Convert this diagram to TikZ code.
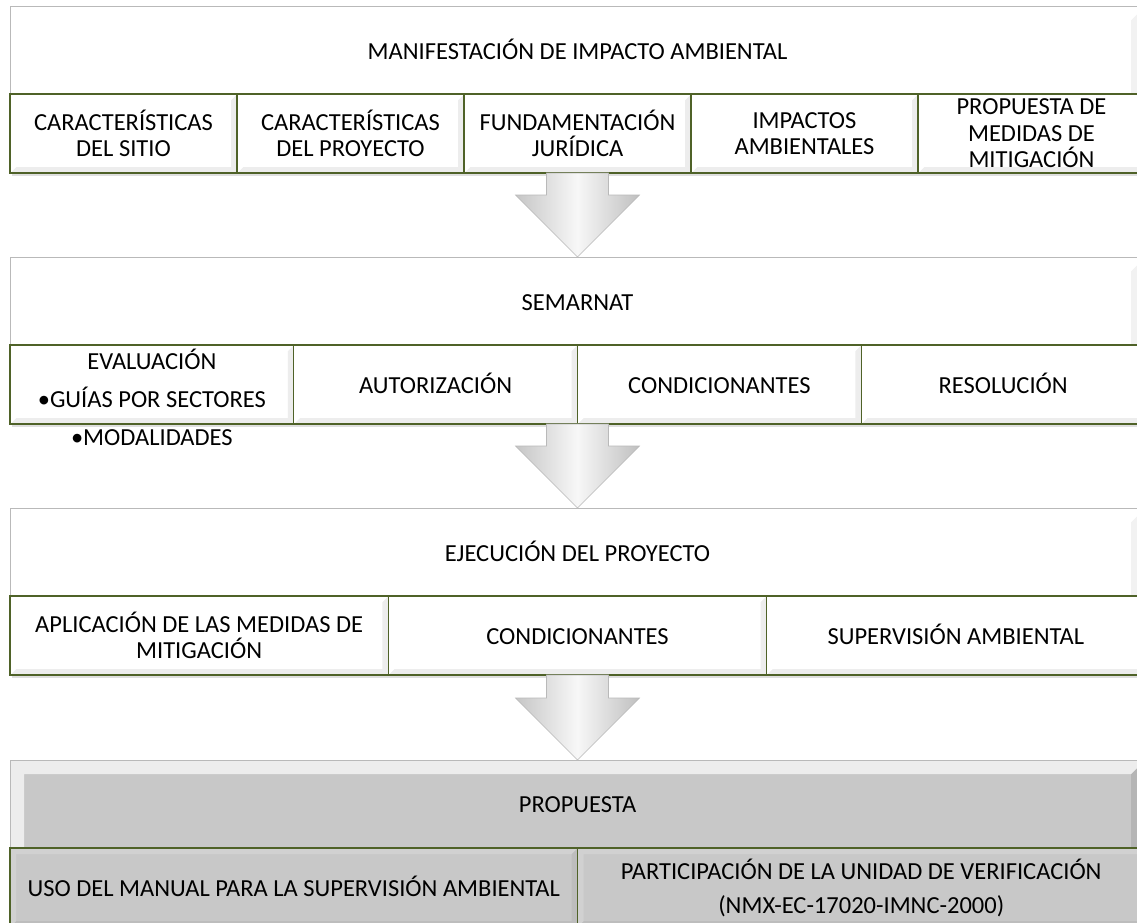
\documentclass[tikz,border=0pt]{standalone}
\usepackage{fontspec}
\setmainfont{Carlito}
\usepackage{tikz}
\usetikzlibrary{positioning, calc, shadows}

\definecolor{cellline}{HTML}{4F6228}
\definecolor{propgray}{HTML}{C8C8C8}

\newcommand\celltext{\fontsize{24.5}{26.5}\selectfont}
% bevel strips: #1 right/bottom, #2 left/top, #3 inset
\newcommand\bevel[3]{%
  \fill[#1] (path picture bounding box.north east) -- ([shift={(-#3,#3)}]path picture bounding box.north east)
    -- ([shift={(-#3,-#3)}]path picture bounding box.south east) -- ([shift={(#3,-#3)}]path picture bounding box.south west)
    -- (path picture bounding box.south west) -- (path picture bounding box.south east) -- cycle;
  \fill[#2] (path picture bounding box.north east) -- ([shift={(-#3,#3)}]path picture bounding box.north east)
    -- ([shift={(#3,#3)}]path picture bounding box.north west) -- ([shift={(#3,-#3)}]path picture bounding box.south west)
    -- (path picture bounding box.south west) -- (path picture bounding box.north west) -- cycle;
}
\newcommand\bigarrow[2]{%
  \path[blockarrow] ($(#1)+(-31,0)$) -- ($(#1)+(31,0)$) -- ($(#2)+(31,-62)$) -- ($(#2)+(62,-62)$)
    -- (#2) -- ($(#2)+(-62,-62)$) -- ($(#2)+(-31,-62)$) -- cycle;
}

\tikzstyle{panel} = [rectangle, anchor=north west, inner sep=0pt, outer sep=0pt, minimum width=1135pt, minimum height=167pt, draw=gray!55, fill=white, drop shadow={opacity=0.25, shadow xshift=1.5pt, shadow yshift=-2.5pt}, path picture={\bevel{gray!10}{white}{14}}]
\tikzstyle{graypanel} = [panel, fill=propgray, path picture={\bevel{gray!58}{gray!14}{14}}]
\tikzstyle{title} = [font=\celltext, inner sep=0pt, text height=21pt, text depth=3pt]
\tikzstyle{cell} = [rectangle, inner sep=0pt, outer sep=0pt, minimum height=79pt, draw=cellline, line width=1.2pt, fill=white, align=center, font=\celltext, path picture={\bevel{gray!14}{white}{6}}]
\tikzstyle{oneline} = [text height=21pt, text depth=3pt]
\tikzstyle{graycell} = [cell, fill=propgray, path picture={\bevel{gray!52}{gray!36}{6}}]
\tikzstyle{blockarrow} = [left color=gray!45, right color=gray!50, middle color=gray!6, draw=gray!55, line width=0.6pt]

\begin{document}
\begin{tikzpicture}[x=1pt, y=-1pt]
\useasboundingbox (0,0) rectangle (1137,922);
\fill[white] (0,0) rectangle (1137,922);

% manifestacion
\node (mia) [panel] at (10,6) {};
\node (miat) [title] at ($(mia.north)+(0,44)$) {MANIFESTACIÓN DE IMPACTO AMBIENTAL};
\node (c11) [cell, minimum width=227pt, anchor=south west] at (mia.south west) {CARACTERÍSTICAS\\DEL SITIO};
\node (c12) [cell, minimum width=227pt, right=0pt of c11] {CARACTERÍSTICAS\\DEL PROYECTO};
\node (c13) [cell, minimum width=227pt, right=0pt of c12] {FUNDAMENTACIÓN\\JURÍDICA};
\node (c14) [cell, minimum width=227pt, right=0pt of c13] {IMPACTOS\\AMBIENTALES};
\node (c15) [cell, minimum width=227pt, right=0pt of c14] {PROPUESTA DE\\MEDIDAS DE\\MITIGACIÓN};

% semarnat
\node (sem) [panel] at (10,257) {};
\node (semt) [title] at ($(sem.north)+(0,44)$) {SEMARNAT};
\node (c21) [cell, minimum width=283.75pt, anchor=south west] at (sem.south west) {};
\node (c22) [cell, oneline, minimum width=283.75pt, right=0pt of c21] {AUTORIZACIÓN};
\node (c23) [cell, oneline, minimum width=283.75pt, right=0pt of c22] {CONDICIONANTES};
\node (c24) [cell, oneline, minimum width=283.75pt, right=0pt of c23] {RESOLUCIÓN};
\node (evalt) [align=center, inner sep=0pt, font=\fontsize{24.5}{38}\selectfont] at ($(c21.center)+(0,13)$) {EVALUACIÓN\\•GUÍAS POR SECTORES\\•MODALIDADES};

% ejecucion
\node (eje) [panel] at (10,508) {};
\node (ejet) [title] at ($(eje.north)+(0,44)$) {EJECUCIÓN DEL PROYECTO};
\node (c31) [cell, minimum width=378.33pt, anchor=south west] at (eje.south west) {APLICACIÓN DE LAS MEDIDAS DE\\MITIGACIÓN};
\node (c32) [cell, oneline, minimum width=378.33pt, right=0pt of c31] {CONDICIONANTES};
\node (c33) [cell, oneline, minimum width=378.33pt, right=0pt of c32] {SUPERVISIÓN AMBIENTAL};

% propuesta
\node (pro) [graypanel] at (10,760) {};
\node (prot) [title] at ($(pro.north)+(0,43)$) {PROPUESTA};
\node (c41) [graycell, oneline, minimum width=567.5pt, anchor=south west] at (pro.south west) {USO DEL MANUAL PARA LA SUPERVISIÓN AMBIENTAL};
\node (c42) [graycell, minimum width=567.5pt, right=0pt of c41, font=\fontsize{24.5}{34}\selectfont] {PARTICIPACIÓN DE LA UNIDAD DE VERIFICACIÓN\\(NMX-EC-17020-IMNC-2000)};

% flechas
\bigarrow{mia.south}{sem.north}
\bigarrow{sem.south}{eje.north}
\bigarrow{eje.south}{pro.north}
\end{tikzpicture}
\end{document}
